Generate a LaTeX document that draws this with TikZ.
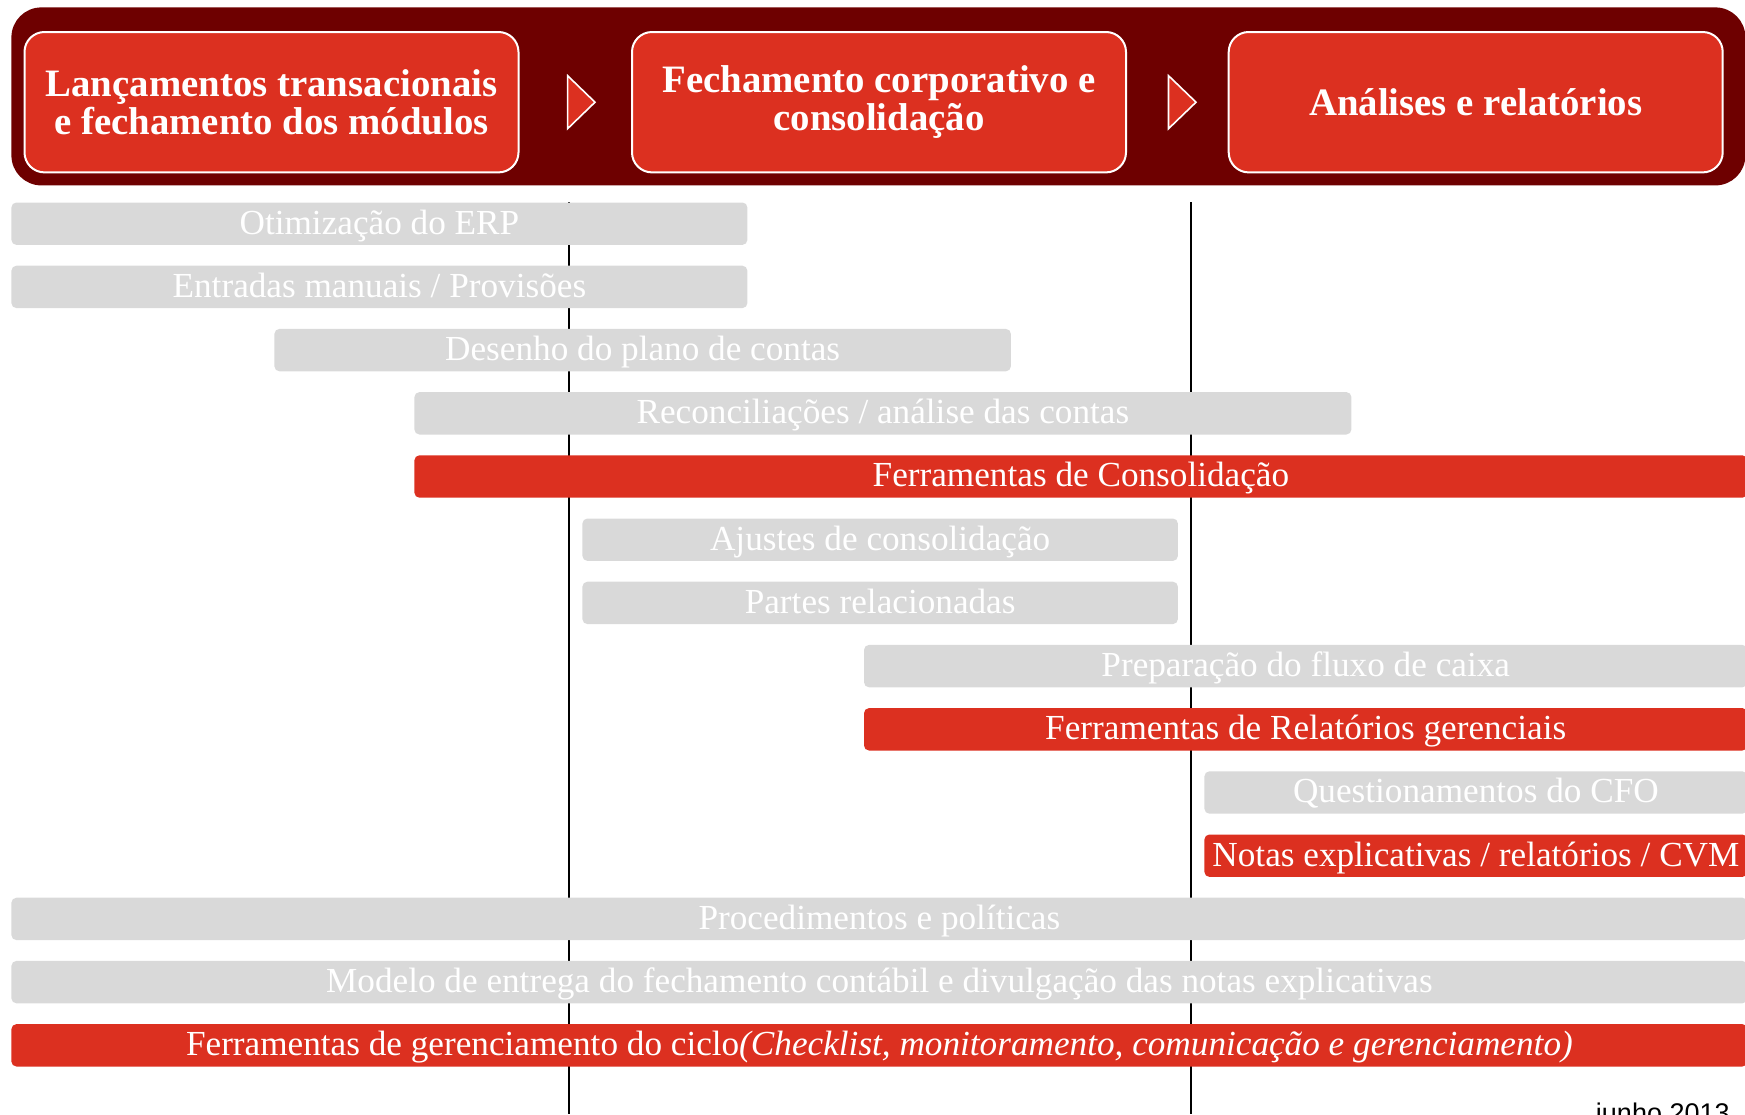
\documentclass[tikz,border=0pt]{standalone}
\usepackage{fontspec}
\setmainfont{Liberation Serif}
\newfontfamily\sansf{Liberation Sans}
\definecolor{bandred}{HTML}{6E0000}
\definecolor{boxred}{HTML}{DC3020}
\definecolor{bargray}{HTML}{D9D9D9}
\newcommand\mkbar[6]{%
  \pgfmathsetmacro\barw{(#4-#3)*0.5}%
  \node[#2, minimum width=\barw pt, anchor=west] (#1) at (#3,#5) {#6};%
}
\begin{document}
\begin{tikzpicture}[x=0.5pt,y=-0.5pt,
  barbase/.style={rectangle, rounded corners=2.5pt, minimum height=21.2pt, inner ysep=0pt, inner xsep=2pt, text=white, font=\fontsize{17.6}{19}\selectfont, text height=1.1em, text depth=0.06em},
  graybar/.style={barbase, fill=bargray},
  redbar/.style={barbase, fill=boxred},
  hdrbox/.style={rectangle, rounded corners=10pt, fill=boxred, draw=white, line width=1pt, minimum width=247pt, minimum height=70.2pt, text=white, align=center, font=\bfseries\fontsize{19.4}{19}\selectfont},
  chev/.style={fill=boxred, draw=white, line width=0.8pt, line join=miter},
  vline/.style={draw=black, line width=0.8pt}]
\useasboundingbox (0,0) rectangle (1745,1114);
\clip (0,0) rectangle (1745,1114);
% header band
\node[rectangle, rounded corners=15pt, fill=bandred, minimum width=867pt, minimum height=89pt, anchor=north west] (band) at (11,7) {};
\node[hdrbox] (h1) at (271.5,102.2) {Lançamentos transacionais\\e fechamento dos módulos};
\node[hdrbox] (h2) at (879,102.2) {Fechamento corporativo e\\consolidação};
\node[hdrbox] (h3) at (1475.7,102.2) {Análises e relatórios};
\draw[chev] (567.6,75.7) -- (595,102.2) -- (567.6,128.7) -- cycle;
\draw[chev] (1168.5,75.7) -- (1196,102.2) -- (1168.5,128.7) -- cycle;
% vertical guide lines
\coordinate (l1top) at (568.7,202);
\coordinate (l1bot) at (568.7,1114);
\coordinate (l2top) at (1190.8,202);
\coordinate (l2bot) at (1190.8,1114);
\draw[vline] (l1top) -- (l1bot);
\draw[vline] (l2top) -- (l2bot);
% bars
\mkbar{b1}{graybar}{11}{747}{223.7}{Otimização do ERP}
\mkbar{b2}{graybar}{11}{747}{286.9}{Entradas manuais / Provisões}
\mkbar{b3}{graybar}{274}{1010.5}{350.1}{Desenho do plano de contas}
\mkbar{b4}{graybar}{414}{1351}{413.3}{Reconciliações / análise das contas}
\mkbar{b5}{redbar}{414}{1747}{476.5}{Ferramentas de Consolidação}
\mkbar{b6}{graybar}{582}{1177.5}{539.7}{Ajustes de consolidação}
\mkbar{b7}{graybar}{582}{1177.5}{602.9}{Partes relacionadas}
\mkbar{b8}{graybar}{863.6}{1747}{666.1}{Preparação do fluxo de caixa}
\mkbar{b9}{redbar}{863.6}{1747}{729.3}{Ferramentas de Relatórios gerenciais}
\mkbar{b10}{graybar}{1204}{1747}{792.5}{Questionamentos do CFO}
\mkbar{b11}{redbar}{1204}{1747}{855.7}{Notas explicativas / relatórios / CVM}
\mkbar{b12}{graybar}{11}{1747}{918.9}{Procedimentos e políticas}
\mkbar{b13}{graybar}{11}{1747}{982.1}{Modelo de entrega do fechamento contábil e divulgação das notas explicativas}
\mkbar{b14}{redbar}{11}{1747}{1045.3}{Ferramentas de gerenciamento do ciclo\textit{(Checklist, monitoramento, comunicação e gerenciamento)}}
% date
\node[anchor=base east, inner sep=0pt, font=\sansf\fontsize{13.5}{15}\selectfont] (date) at (1730,1122) {junho 2013};
\end{tikzpicture}
\end{document}
